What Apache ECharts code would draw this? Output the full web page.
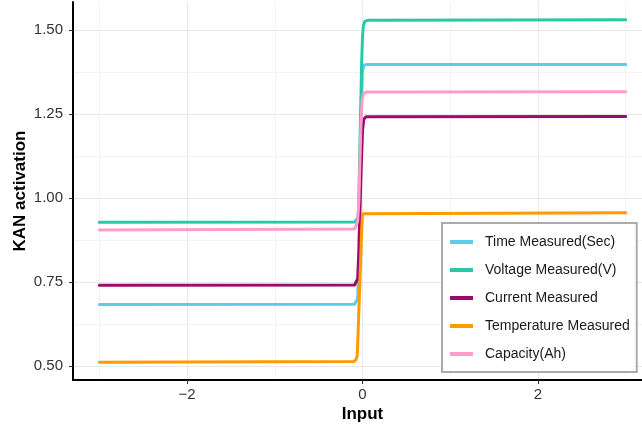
<!DOCTYPE html>
<html>
<head>
<meta charset="utf-8">
<title>KAN activation</title>
<script src="https://cdn.jsdelivr.net/npm/echarts@6.0.0/dist/echarts.min.js"></script>
<style>
  html, body { margin: 0; padding: 0; background: #fff; }
  #chart { width: 642px; height: 427px; }
</style>
</head>
<body>
<div id="chart"></div>
<script>
/**
 * 数据
 */
var seriesNames = ['Time Measured(Sec)', 'Voltage Measured(V)', 'Current Measured', 'Temperature Measured', 'Capacity(Ah)']
var seriesColors = ['#5bcde9', '#27c9a6', '#9b0a6d', '#ff9a00', '#ff9ccc']

var timeData = [[-3, 0.683], [-0.09, 0.684], [-0.07, 0.688], [-0.055, 0.70], [-0.045, 0.78], [-0.02, 1.2], [0, 1.38], [0.02, 1.396], [0.05, 1.398], [3, 1.398]]
var voltageData = [[-3, 0.928], [-0.09, 0.929], [-0.07, 0.932], [-0.055, 0.94], [-0.045, 0.96], [-0.03, 1.15], [-0.01, 1.40], [0, 1.48], [0.01, 1.515], [0.03, 1.527], [0.07, 1.530], [3, 1.531]]
var currentData = [[-3, 0.740], [-0.09, 0.741], [-0.07, 0.745], [-0.055, 0.76], [-0.04, 0.85], [-0.02, 1.05], [0, 1.2], [0.015, 1.235], [0.04, 1.242], [3, 1.243]]
var temperatureData = [[-3, 0.511], [-0.1, 0.513], [-0.075, 0.518], [-0.06, 0.53], [-0.05, 0.6], [-0.03, 0.75], [-0.01, 0.9], [0, 0.953], [0.02, 0.956], [3, 0.956]]
var capacityData = [[-3, 0.905], [-0.09, 0.908], [-0.07, 0.912], [-0.055, 0.93], [-0.04, 1.0], [-0.02, 1.2], [-0.005, 1.29], [0.01, 1.31], [0.04, 1.316], [3, 1.317]]

var xMajorTicks = [-2, 0, 2]
var xMinorTicks = [-3, -1, 1, 3]
var yMajorTicks = [0.5, 0.75, 1.0, 1.25, 1.5]
var yMinorTicks = [0.625, 0.875, 1.125, 1.375]

var xMin = -3.3, xMax = 3.3
var yMin = 0.458, yMax = 1.584

var font = '"Liberation Sans", Arial, sans-serif'

function minusLabel(v) {
  return v < 0 ? '\u2212' + Math.abs(v) : String(v)
}

function makeSeries(i, data) {
  return {
    type: 'line',
    name: seriesNames[i],
    data: data,
    showSymbol: false,
    smooth: false,
    color: seriesColors[i],
    lineStyle: { width: 3, color: seriesColors[i], join: 'round', cap: 'round' },
    xAxisIndex: 0,
    yAxisIndex: 0
  }
}

var option = {
  animation: false,
  backgroundColor: '#fff',
  textStyle: { fontFamily: font },
  grid: { left: 73, top: 2, width: 579, height: 378, outerBoundsMode: 'none', containLabel: false },
  legend: {
    orient: 'vertical',
    left: 442,
    top: 223,
    padding: [11, 7, 10, 8],
    itemGap: 12,
    itemWidth: 23,
    itemHeight: 4,
    icon: 'rect',
    backgroundColor: '#fff',
    borderColor: '#ababab',
    borderWidth: 2,
    borderRadius: 0,
    textStyle: { fontFamily: font, fontSize: 14, color: '#1a1a1a', lineHeight: 16, padding: [0, 0, 0, 7] },
    data: seriesNames
  },
  xAxis: [
    {
      type: 'value', min: xMin, max: xMax,
      name: 'Input', nameLocation: 'middle', nameGap: 26, nameMoveOverlap: false,
      nameTextStyle: { fontFamily: font, fontSize: 17, fontWeight: 'bold', color: '#000' },
      axisLine: { show: true, onZero: false, lineStyle: { color: '#000', width: 2 } },
      axisTick: { show: true, length: 4, customValues: xMajorTicks, lineStyle: { color: '#333', width: 1 } },
      axisLabel: { customValues: xMajorTicks, margin: 7, fontSize: 15, color: '#333', formatter: minusLabel },
      splitLine: { show: true, lineStyle: { color: '#e8e8e8', width: 1 } }
    },
    {
      type: 'value', min: xMin, max: xMax, gridIndex: 0, position: 'bottom',
      axisLine: { show: false },
      axisTick: { show: false, customValues: xMinorTicks },
      axisLabel: { show: false },
      splitLine: { show: true, lineStyle: { color: '#f3f3f3', width: 1 } }
    }
  ],
  yAxis: [
    {
      type: 'value', min: yMin, max: yMax,
      name: 'KAN activation', nameLocation: 'middle', nameGap: 44, nameMoveOverlap: false,
      nameTextStyle: { fontFamily: font, fontSize: 17, fontWeight: 'bold', color: '#000' },
      axisLine: { show: true, onZero: false, lineStyle: { color: '#000', width: 2 } },
      axisTick: { show: true, length: 4, customValues: yMajorTicks, lineStyle: { color: '#333', width: 1 } },
      axisLabel: { customValues: yMajorTicks, margin: 10, fontSize: 15, color: '#333', formatter: function (v) { return v.toFixed(2) } },
      splitLine: { show: true, lineStyle: { color: '#e8e8e8', width: 1 } }
    },
    {
      type: 'value', min: yMin, max: yMax, gridIndex: 0, position: 'left',
      axisLine: { show: false },
      axisTick: { show: false, customValues: yMinorTicks },
      axisLabel: { show: false },
      splitLine: { show: true, lineStyle: { color: '#f3f3f3', width: 1 } }
    }
  ],
  series: [
    makeSeries(0, timeData),
    makeSeries(1, voltageData),
    makeSeries(2, currentData),
    makeSeries(3, temperatureData),
    makeSeries(4, capacityData)
  ]
}

var myChart = echarts.init(document.getElementById('chart'))
myChart.setOption(option, true)
</script>
</body>
</html>
